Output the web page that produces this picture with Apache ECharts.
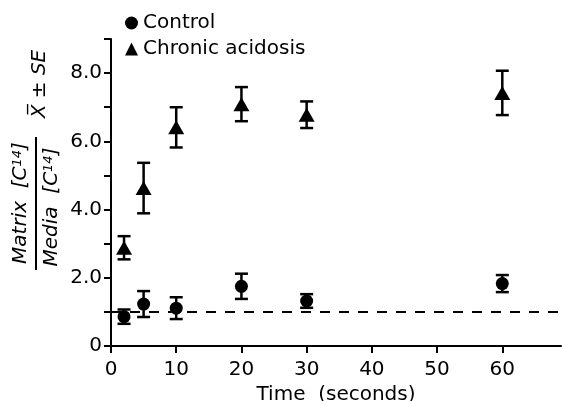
<!DOCTYPE html>
<html>
<head>
<meta charset="utf-8">
<script src="https://cdn.jsdelivr.net/npm/echarts@6/dist/echarts.min.js"></script>
<style>
html,body{margin:0;padding:0;background:#fff;}
#chart{width:562px;height:401px;}
</style>
</head>
<body>
<div id="chart"></div>
<script>
// Data
var times = [2, 5, 10, 20, 30, 60];
var controlMean = [0.86, 1.23, 1.11, 1.75, 1.32, 1.83];
var controlSE = [0.21, 0.38, 0.32, 0.37, 0.20, 0.25];
var acidMean = [2.88, 4.63, 6.41, 7.09, 6.78, 7.42];
var acidSE = [0.34, 0.74, 0.59, 0.50, 0.39, 0.65];
var refLevel = 1.0;
var xTicks = [0, 10, 20, 30, 40, 50, 60];
var seriesNames = ['Control', 'Chronic acidosis'];

var INK = '#000';
var FONT = 'DejaVu Sans';

function pts(means) { return times.map(function (t, i) { return [t, means[i]]; }); }
function errData(means, se) { return times.map(function (t, i) { return [t, means[i] - se[i], means[i] + se[i]]; }); }

function errRender(params, api) {
  var x = api.value(0);
  var lo = api.coord([x, api.value(1)]);
  var hi = api.coord([x, api.value(2)]);
  var hw = 6.5;
  var st = { stroke: INK, lineWidth: 2.5, fill: null };
  return {
    type: 'group',
    children: [
      { type: 'line', shape: { x1: lo[0], y1: lo[1], x2: hi[0], y2: hi[1] }, style: st },
      { type: 'line', shape: { x1: lo[0] - hw, y1: lo[1], x2: lo[0] + hw, y2: lo[1] }, style: st },
      { type: 'line', shape: { x1: hi[0] - hw, y1: hi[1], x2: hi[0] + hw, y2: hi[1] }, style: st }
    ]
  };
}

var chart = echarts.init(document.getElementById('chart'));
chart.setOption({
  animation: false,
  backgroundColor: '#fff',
  textStyle: { fontFamily: FONT, color: INK },
  grid: { left: 111, top: 39, width: 450, height: 307, containLabel: false, outerBoundsMode: 'none' },
  legend: {
    orient: 'vertical', left: 125, top: 12, itemGap: 4, padding: 0,
    itemWidth: 13, itemHeight: 13,
    itemStyle: { color: INK, opacity: 1 },
    textStyle: { fontFamily: FONT, fontSize: 20, color: INK, lineHeight: 22 },
    data: [{ name: seriesNames[0], icon: 'circle' }, { name: seriesNames[1], icon: 'triangle' }]
  },
  xAxis: {
    type: 'value', min: 0, max: 69,
    name: 'Time  (seconds)', nameLocation: 'middle', nameGap: 34,
    nameTextStyle: { fontFamily: FONT, fontSize: 20, color: INK },
    axisLine: { lineStyle: { color: INK, width: 2 } },
    axisTick: { show: true, length: 7, lineStyle: { color: INK, width: 2 }, customValues: xTicks },
    axisLabel: { fontSize: 20, color: INK, margin: 14, customValues: xTicks },
    splitLine: { show: false }
  },
  yAxis: {
    type: 'value', min: 0, max: 9, interval: 1,
    axisLine: { show: true, lineStyle: { color: INK, width: 2 } },
    axisTick: { show: true, length: 7, lineStyle: { color: INK, width: 2 } },
    axisLabel: {
      fontSize: 20, color: INK, margin: 9,
      formatter: function (v) { if (v === 0) return '0'; return (v % 2 === 0 && v < 9) ? v.toFixed(1) : ''; }
    },
    splitLine: { show: false }
  },
  series: [
    {
      name: 'ctrlErr', type: 'custom', renderItem: errRender, data: errData(controlMean, controlSE),
      encode: { x: 0, y: [1, 2] }, silent: true, z: 2
    },
    {
      name: 'acidErr', type: 'custom', renderItem: errRender, data: errData(acidMean, acidSE),
      encode: { x: 0, y: [1, 2] }, silent: true, z: 2
    },
    {
      name: seriesNames[0], type: 'scatter', symbol: 'circle', symbolSize: 13,
      itemStyle: { color: INK, opacity: 1 }, data: pts(controlMean), z: 3,
      markLine: {
        silent: true, symbol: 'none', label: { show: false },
        lineStyle: { color: INK, width: 2, type: [10, 9], opacity: 1 },
        data: [{ yAxis: refLevel }]
      }
    },
    {
      name: seriesNames[1], type: 'scatter', symbol: 'triangle', symbolSize: [16, 14],
      itemStyle: { color: INK, opacity: 1 }, data: pts(acidMean), z: 3
    }
  ],
  graphic: [
    {
      type: 'text', x: 21, y: 203, rotation: Math.PI / 2,
      style: {
        text: 'Matrix  [C{s|14}]', fontFamily: FONT, fontStyle: 'italic', fontSize: 20, fill: INK,
        align: 'center', verticalAlign: 'middle',
        rich: { s: { fontSize: 13, fontStyle: 'italic', fontFamily: FONT, verticalAlign: 'top', fill: INK } }
      }
    },
    {
      type: 'line', shape: { x1: 36, y1: 137, x2: 36, y2: 270 },
      style: { stroke: INK, lineWidth: 2 }
    },
    {
      type: 'text', x: 52, y: 207, rotation: Math.PI / 2,
      style: {
        text: 'Media  [C{s|14}]', fontFamily: FONT, fontStyle: 'italic', fontSize: 20, fill: INK,
        align: 'center', verticalAlign: 'middle',
        rich: { s: { fontSize: 13, fontStyle: 'italic', fontFamily: FONT, verticalAlign: 'top', fill: INK } }
      }
    },
    {
      type: 'text', x: 40, y: 84, rotation: Math.PI / 2,
      style: {
        text: 'X\u0305 \u00B1 SE', fontFamily: FONT, fontStyle: 'italic', fontSize: 20, fill: INK,
        align: 'center', verticalAlign: 'middle'
      }
    }
  ]
});
</script>
</body>
</html>
